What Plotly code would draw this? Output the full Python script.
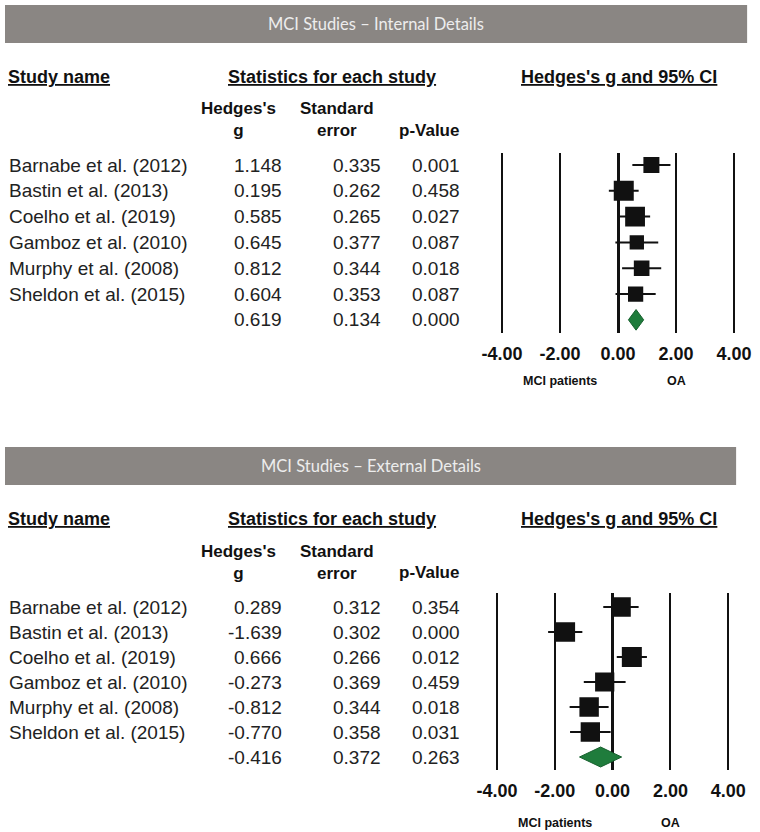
import numpy as np
import plotly.graph_objects as go

studies = ["Barnabe et al. (2012)", "Bastin et al. (2013)", "Coelho et al. (2019)",
           "Gamboz et al. (2010)", "Murphy et al. (2008)", "Sheldon et al. (2015)"]

# internal details
g_int = [1.148, 0.195, 0.585, 0.645, 0.812, 0.604]
se_int = [0.335, 0.262, 0.265, 0.377, 0.344, 0.353]
p_int = [0.001, 0.458, 0.027, 0.087, 0.018, 0.087]
pooled_int = [0.619, 0.134, 0.000]

# external details
g_ext = [0.289, -1.639, 0.666, -0.273, -0.812, -0.770]
se_ext = [0.312, 0.302, 0.266, 0.369, 0.344, 0.358]
p_ext = [0.354, 0.000, 0.012, 0.459, 0.018, 0.031]
pooled_ext = [-0.416, 0.372, 0.263]

tick_vals = [-4, -2, 0, 2, 4]
tick_text = [f"{v:.2f}" for v in tick_vals]

W, H = 760, 832
ARIAL = "Liberation Sans, Arial, sans-serif"
GREY_BAR = "#8a8683"
GREEN = "#1f7c3c"


def px(x):
    # horizontal pixel position -> paper fraction (small correction for the page offset)
    return ((x - 7) / 0.988) / W


def py(y):
    return 1 - y / H


def re_weights(g, se):
    # DerSimonian-Laird random-effects weights, used for box size
    g = np.array(g)
    v = np.array(se) ** 2
    w = 1 / v
    mean = np.sum(w * g) / np.sum(w)
    q = np.sum(w * (g - mean) ** 2)
    c = np.sum(w) - np.sum(w ** 2) / np.sum(w)
    tau2 = max(0.0, (q - (len(g) - 1)) / c)
    return 1 / (v + tau2)


def note(text, x, y, xref="paper", yref="paper", xanchor="center", size=19, bold=False,
         color="#222", family=ARIAL):
    return dict(text=text, x=x, y=y, xref=xref, yref=yref, xanchor=xanchor, yanchor="middle",
                showarrow=False,
                font=dict(family=family, size=size, color=color, weight="bold" if bold else "normal"))


fig = go.Figure()
annotations = []
shapes = []

panels = [
    dict(title="MCI Studies \u2013 Internal Details", g=g_int, se=se_int, p=p_int,
         pooled=pooled_int, top=5, bar_right=748, ax=""),
    dict(title="MCI Studies \u2013 External Details", g=g_ext, se=se_ext, p=p_ext,
         pooled=pooled_ext, top=447, bar_right=737, ax="2"),
]

for pn in panels:
    t = pn["top"]
    xa = "x" + pn["ax"]
    ya = "y" + pn["ax"]
    n = len(studies)

    # header bar
    shapes.append(dict(type="rect", xref="paper", yref="paper",
                       x0=px(6), x1=px(pn["bar_right"]), y0=py(t + 38), y1=py(t),
                       fillcolor=GREY_BAR, line_width=0, layer="below"))
    annotations.append(note(pn["title"], px((6 + pn["bar_right"]) / 2), py(t + 19),
                            size=16.5, color="#ededed", family="Lato, Open Sans"))

    # column group headings
    annotations.append(note("<u>Study name</u>", px(7), py(t + 72), xanchor="left",
                            size=18, bold=True, color="#111"))
    annotations.append(note("<u>Statistics for each study</u>", px(333), py(t + 72),
                            size=18, bold=True, color="#111"))
    annotations.append(note("<u>Hedges's g and 95% CI</u>", px(620), py(t + 72),
                            size=18, bold=True, color="#111"))
    annotations.append(note("Hedges's<br>g", px(239), py(t + 115), size=17, bold=True, color="#111"))
    annotations.append(note("Standard<br>error", px(338), py(t + 115), size=17, bold=True, color="#111"))
    annotations.append(note("p-Value", px(430), py(t + 125), size=17, bold=True, color="#111"))

    # table rows
    rows_g = list(pn["g"]) + [pn["pooled"][0]]
    rows_se = list(pn["se"]) + [pn["pooled"][1]]
    rows_p = list(pn["p"]) + [pn["pooled"][2]]
    for i in range(n + 1):
        if i < n:
            annotations.append(note(studies[i], px(8), i, yref=ya, xanchor="left"))
        for val, xr in [(rows_g[i], 285), (rows_se[i], 384), (rows_p[i], 463)]:
            annotations.append(note(f"{val:.3f}", px(xr), i, yref=ya, xanchor="right"))

    # study boxes with 95% CI
    w = re_weights(pn["g"], pn["se"])
    sizes = 20 * np.sqrt(w / w.max())
    fig.add_trace(go.Scatter(
        x=pn["g"], y=list(range(n)), mode="markers", xaxis=xa, yaxis=ya,
        marker=dict(symbol="square", size=sizes, color="#111111", opacity=1, line_width=0),
        error_x=dict(type="data", array=[1.96 * s for s in pn["se"]],
                     color="#111111", thickness=2, width=0),
        showlegend=False, hoverinfo="skip"))

    # pooled diamond
    g0, s0 = pn["pooled"][0], pn["pooled"][1]
    lo, hi = g0 - 1.96 * s0, g0 + 1.96 * s0
    fig.add_trace(go.Scatter(
        x=[lo, g0, hi, g0, lo], y=[n, n - 0.4, n, n + 0.4, n],
        mode="lines", fill="toself", fillcolor=GREEN, xaxis=xa, yaxis=ya,
        line=dict(color="#17602e", width=1), showlegend=False, hoverinfo="skip"))

    # side labels under the axis
    annotations.append(note("MCI patients", -2, py(t + 376), xref=xa, size=12.5, bold=True, color="#111"))
    annotations.append(note("OA", 2, py(t + 376), xref=xa, size=12.5, bold=True, color="#111"))

axis_common = dict(range=[-4.5, 4.5], tickvals=tick_vals, ticktext=tick_text,
                   showgrid=True, gridcolor="#111", gridwidth=2,
                   zeroline=True, zerolinecolor="#111", zerolinewidth=3,
                   showline=False, ticks="", ticklabelstandoff=8,
                   tickfont=dict(family=ARIAL, size=18, color="#111", weight="bold"),
                   fixedrange=True)

fig.update_layout(
    width=W, height=H,
    margin=dict(l=0, r=0, t=0, b=0),
    paper_bgcolor="white", plot_bgcolor="white",
    xaxis=dict(domain=[px(619 - 4.5 * 29.0), px(619 + 4.5 * 29.0)], anchor="y", **axis_common),
    yaxis=dict(domain=[py(333), py(153)], range=[6.51, -0.465], anchor="x",
               visible=False, fixedrange=True),
    xaxis2=dict(domain=[px(613.5 - 4.5 * 28.9), px(613.5 + 4.5 * 28.9)], anchor="y2", **axis_common),
    yaxis2=dict(domain=[py(770), py(593)], range=[6.52, -0.56], anchor="x2",
                visible=False, fixedrange=True),
    shapes=shapes,
    annotations=annotations,
)

fig.write_html("out.html", config={"displayModeBar": False},
               post_script="document.body.style.margin='0';")
